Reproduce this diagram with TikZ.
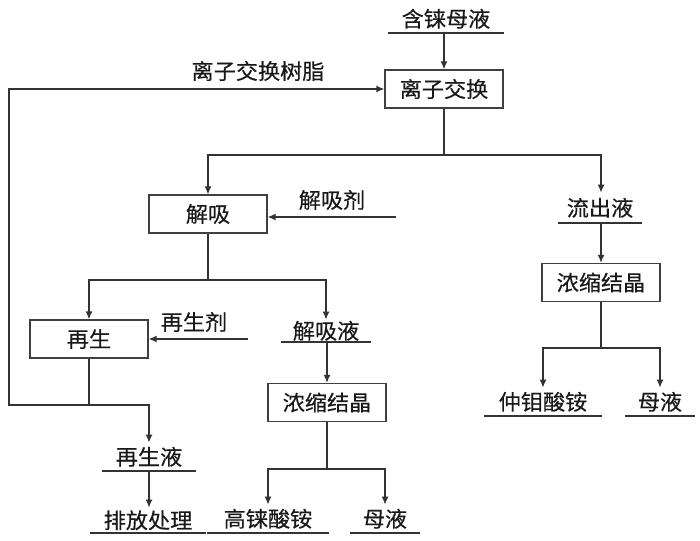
\documentclass[tikz,border=0pt]{standalone}
\usepackage{fontspec}
\setmainfont{Noto Sans CJK SC}[FakeStretch=1.03,FakeBold=0.4]
\usetikzlibrary{arrows.meta}
\begin{document}
\begin{tikzpicture}[x=1pt,y=-1pt,
  every node/.style={font=\fontsize{21.5}{24}\selectfont, text=black!90, inner sep=0pt},
  conn/.style={draw=black!80, line width=1.3pt},
  arr/.style={conn, -{Latex[length=8pt,width=7pt]}},
  box/.style={draw=black!75, line width=1.3pt, minimum width=118pt, minimum height=38pt},
  lab/.style={minimum height=28pt, anchor=south},
  ul/.style={draw=black!80, line width=1.3pt}]
\useasboundingbox (0,0) rectangle (700,540);
% nodes
\node[lab, minimum width=116pt] (hl) at (446,33) {含铼母液};
\node[box] (ion) at (444,89) {离子交换};
\node (resin) at (258,71) {离子交换树脂};
\node[box] (jx) at (208,214) {解吸};
\node (jxj) at (332,200) {解吸剂};
\coordinate (jxjs) at (396,217);
\node[lab, minimum width=83pt, minimum height=30pt] (lcy) at (600,223) {流出液};
\node[box] (nsR) at (601,282.5) {浓缩结晶};
\node[lab, minimum width=117pt] (zmsa) at (543,416) {仲钼酸铵};
\node[lab, minimum width=70pt] (myR) at (660,416) {母液};
\node[box] (zs) at (89,339) {再生};
\node (zsj) at (194,322) {再生剂};
\coordinate (zsjs) at (248,339);
\node[lab, minimum width=90pt, minimum height=22pt] (jxy) at (326,342) {解吸液};
\node[box] (nsM) at (327,402.5) {浓缩结晶};
\node[lab, minimum width=122pt] (glsa) at (268,533) {高铼酸铵};
\node[lab, minimum width=70pt] (myM) at (385,533) {母液};
\node[lab, minimum width=94pt] (zsy) at (149,471) {再生液};
\node[lab, minimum width=116pt, minimum height=25pt] (pfcl) at (148,533) {排放处理};
% underlines
\foreach \n in {hl,lcy,zmsa,myR,jxy,glsa,myM,zsy,pfcl}
  \draw[ul] (\n.south west) -- (\n.south east);
% junctions
\coordinate (b1) at (444,155);
\coordinate (b2) at (601,348);
\coordinate (b3) at (208,280);
\coordinate (b4) at (327,469);
\coordinate (b5) at (89,405);
\coordinate (fl) at (9,405);
% connectors
\draw[arr] (hl.south -| ion.north) -- (ion.north);
\draw[conn] (ion.south) -- (b1);
\draw[arr] (b1) -| (jx.north);
\draw[arr] (b1) -| (lcy.north -| nsR.north);
\draw[arr] (lcy.south -| nsR.north) -- (nsR.north);
\draw[conn] (nsR.south) -- (b2);
\draw[arr] (b2) -| (zmsa.north);
\draw[arr] (b2) -| (myR.north);
\draw[arr] (jxjs) -- (jxjs -| jx.east);
\draw[conn] (jx.south) -- (b3);
\draw[arr] (b3) -| (zs.north);
\draw[arr] (b3) -| (jxy.north);
\draw[arr] (zsjs) -- (zsjs -| zs.east);
\draw[arr] (jxy.south -| nsM.north) -- (nsM.north);
\draw[conn] (nsM.south) -- (b4);
\draw[arr] (b4) -| (glsa.north);
\draw[arr] (b4) -| (myM.north);
\draw[conn] (zs.south) -- (b5);
\draw[arr] (b5) -- (fl) -- (fl |- ion.west) -- (ion.west);
\draw[arr] (b5) -| (zsy.north);
\draw[arr] (zsy.south) -- (zsy.south |- pfcl.north);
\end{tikzpicture}
\end{document}
